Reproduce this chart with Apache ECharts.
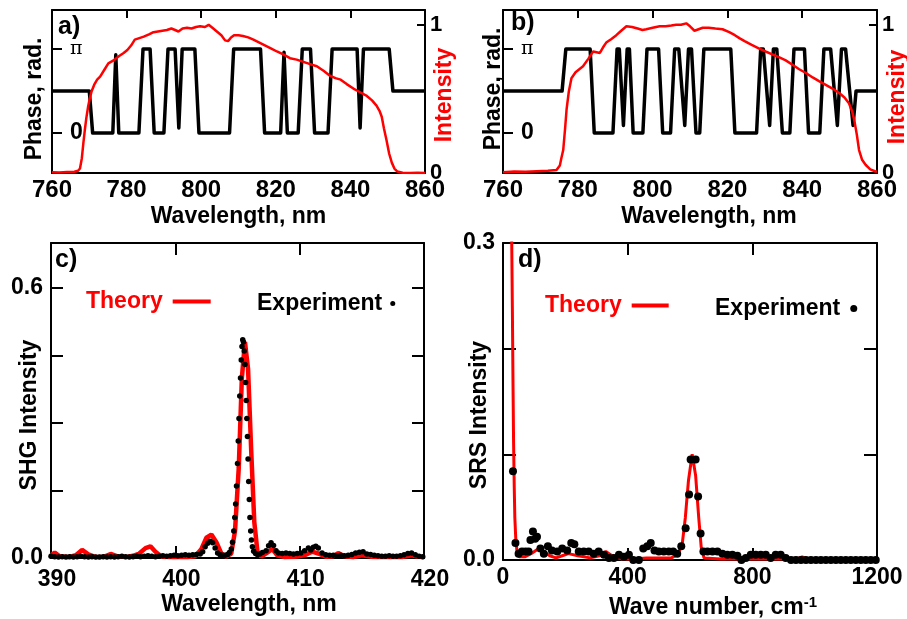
<!DOCTYPE html>
<html>
<head>
<meta charset="utf-8">
<script src="https://cdn.jsdelivr.net/npm/echarts@6/dist/echarts.min.js"></script>
<style>
  html, body { margin: 0; padding: 0; background: #fff; }
  #chart { width: 907px; height: 619px; }
</style>
</head>
<body>
<div id="chart"></div>
<script>
// phase in units of pi, [wavelength nm, phase]
const phaseA = [
  [760, 0.5], [770.0, 0.5], [770.9, 0], [776.3, 0], [777.1, 0.93], [777.9, 0], [783.3, 0], [784.4, 1],
  [786.3, 1], [787.4, 0], [790.0, 0], [791.1, 1], [793.0, 1], [794.0, 0.06], [794.9, 1], [798.3, 1],
  [799.4, 0], [807.6, 0], [808.7, 1], [815.9, 1], [817.0, 0], [821.3, 0], [822.2, 0.96], [823.1, 0],
  [826.0, 0], [827.1, 1], [829.3, 1], [830.4, 0], [834.0, 0], [835.1, 1], [841.8, 1], [842.6, 0.06],
  [843.5, 1], [850.4, 1], [851.4, 0.5], [860, 0.5]
];
const intensityA = [
  [760, 0.005], [762, 0.003], [764, 0.006], [766, 0.008], [767, 0.015], [767.5, 0.03], [768, 0.1],
  [768.4, 0.2], [768.8, 0.29], [769.2, 0.37], [769.7, 0.45], [770.1, 0.5], [770.6, 0.55], [771.4, 0.6],
  [772.1, 0.63], [772.9, 0.65], [774, 0.695], [775.1, 0.74], [776.5, 0.76], [778, 0.79], [779.2, 0.81],
  [780.2, 0.83], [781.2, 0.86], [782.2, 0.9], [783.4, 0.91], [784.6, 0.92], [786, 0.935], [787.2, 0.95],
  [788.4, 0.955], [789.6, 0.96], [790.8, 0.965], [792, 0.975], [793, 0.965], [793.9, 0.955], [795, 0.975],
  [796.2, 0.98], [797.4, 0.975], [798.6, 0.985], [799.7, 0.99], [801, 0.985], [802, 1.0], [803, 0.98],
  [804.2, 0.955], [805.4, 0.93], [806.4, 0.895], [807.2, 0.89], [808, 0.915], [808.8, 0.93], [810, 0.93],
  [811.2, 0.925], [812.6, 0.915], [814, 0.9], [815.6, 0.88], [817.2, 0.86], [818.8, 0.84], [820.3, 0.82],
  [822, 0.8], [823.8, 0.775], [825.6, 0.765], [827.4, 0.75], [829.2, 0.735], [831, 0.72], [832.8, 0.69],
  [834.6, 0.655], [836, 0.64], [837.4, 0.63], [839, 0.6], [840.8, 0.57], [842.6, 0.545], [844.4, 0.52],
  [845.8, 0.49], [847, 0.455], [847.8, 0.42], [848.4, 0.38], [849, 0.3], [849.7, 0.22], [850.4, 0.13],
  [851.1, 0.07], [851.8, 0.03], [852.6, 0.01], [854, 0.002], [856, 0], [858, 0.002], [860, 0]
];
const phaseB = [
  [760, 0.5], [775.8, 0.5], [776.8, 1], [783.3, 1], [784.4, 0], [789.4, 0], [790.5, 1], [791.1, 1],
  [792.2, 0.09], [793.2, 1], [793.8, 1], [794.8, 0], [797.4, 0], [798.5, 1], [801.6, 1], [802.7, 0],
  [804.8, 0], [805.9, 1], [807.0, 1], [808.6, 0.09], [809.6, 1], [810.4, 1], [811.6, 0], [812.6, 0],
  [813.7, 1], [820.9, 1], [822.0, 0], [827.8, 0], [828.9, 1], [829.6, 1], [831.3, 0.09], [832.3, 1],
  [833.2, 1], [834.7, 0], [836.7, 0], [837.8, 1], [840.6, 1], [841.7, 0], [844.7, 0], [845.8, 1],
  [847.6, 1], [849.4, 0.09], [850.5, 1], [851.6, 1], [853.6, 0.09], [854.4, 0.5], [860, 0.5]
];
const intensityB = [
  [760, 0.005], [763, 0.01], [766, 0.008], [769, 0.012], [772, 0.015], [774.3, 0.02], [775.2, 0.05],
  [775.6, 0.1], [776.1, 0.155], [776.6, 0.3], [777, 0.43], [777.6, 0.55], [778.3, 0.64], [779.4, 0.68],
  [780.4, 0.7], [781.4, 0.72], [782.8, 0.77], [784.1, 0.82], [785, 0.815], [785.9, 0.81], [786.8, 0.85],
  [787.6, 0.88], [789, 0.905], [790.3, 0.93], [791.6, 0.96], [793, 0.99], [794.5, 0.985], [796, 0.975],
  [797.3, 0.965], [798.3, 0.97], [800, 0.98], [801.9, 0.99], [803.5, 0.99], [805, 0.995], [806.3, 1.0],
  [807.6, 1.0], [809, 1.01], [810, 0.99], [811.2, 0.96], [812.3, 0.97], [813.4, 0.98], [815, 0.98],
  [816.8, 0.975], [818.7, 0.97], [820.5, 0.95], [822, 0.93], [823.2, 0.91], [824.6, 0.89], [826.5, 0.865],
  [828.5, 0.84], [830.2, 0.82], [832, 0.8], [833.9, 0.78], [835.6, 0.76], [837.4, 0.73], [839.2, 0.7],
  [841, 0.675], [842.8, 0.645], [844.5, 0.62], [846.3, 0.595], [848.1, 0.57], [849.9, 0.54], [851.3, 0.51],
  [852.5, 0.47], [853.3, 0.42], [853.9, 0.36], [854.6, 0.26], [855.2, 0.155], [856, 0.09], [857, 0.054],
  [858.2, 0.025], [859.6, 0.01], [860, 0.01]
];
const shgTheory = [
  [390, 0.006], [390.3, 0.012], [390.7, 0.004], [391.4, 0.002], [392, 0.006], [392.5, 0.018], [393, 0.008],
  [393.6, 0.002], [394.3, 0.003], [394.8, 0.009], [395.3, 0.004], [396, 0.002], [396.6, 0.005], [397.1, 0.01],
  [397.6, 0.022], [398, 0.026], [398.4, 0.014], [398.9, 0.003], [399.6, 0.002], [400.3, 0.003], [401, 0.002],
  [401.6, 0.004], [402.1, 0.02], [402.5, 0.045], [402.9, 0.052], [403.3, 0.035], [403.7, 0.01], [404.1, 0.003],
  [404.5, 0.01], [404.8, 0.06], [405.1, 0.2], [405.35, 0.4], [405.6, 0.48], [405.85, 0.42], [406.1, 0.24],
  [406.35, 0.08], [406.6, 0.015], [406.9, 0.003], [407.4, 0.012], [407.8, 0.02], [408.2, 0.006], [408.8, 0.002],
  [409.6, 0.003], [410.4, 0.006], [411, 0.014], [411.5, 0.01], [412.1, 0.003], [412.7, 0.004], [413.1, 0.011],
  [413.6, 0.004], [414.3, 0.002], [415, 0.006], [415.7, 0.003], [416.5, 0.002], [417.3, 0.003], [418.2, 0.002],
  [419, 0.006], [419.5, 0.003], [420, 0.002]
];
const shgExperiment = [
  [390.0, 0.004], [390.3, 0.003], [390.6, 0.002], [390.9, 0.003], [391.2, 0.002], [391.5, 0.003], [391.8, 0.002],
  [392.1, 0.003], [392.4, 0.004], [392.7, 0.003], [393.0, 0.002], [393.3, 0.003], [393.6, 0.002], [393.9, 0.002],
  [394.2, 0.003], [394.5, 0.002], [394.8, 0.003], [395.1, 0.002], [395.4, 0.003], [395.7, 0.004], [396.0, 0.003],
  [396.3, 0.002], [396.6, 0.003], [396.9, 0.004], [397.2, 0.003], [397.5, 0.004], [397.8, 0.005], [398.1, 0.004],
  [398.4, 0.003], [398.7, 0.004], [399.0, 0.005], [399.3, 0.004], [399.6, 0.005], [399.9, 0.006], [400.2, 0.005],
  [400.5, 0.006], [400.8, 0.007], [401.1, 0.006], [401.4, 0.007], [401.7, 0.008], [402.0, 0.009], [402.2, 0.014],
  [402.4, 0.025], [402.6, 0.033], [402.8, 0.037], [403.0, 0.034], [403.2, 0.022], [403.4, 0.011], [403.6, 0.007],
  [403.8, 0.006], [404.0, 0.006], [404.2, 0.008], [404.35, 0.012], [404.5, 0.02], [404.6, 0.035], [404.7, 0.06],
  [404.78, 0.09], [404.85, 0.12], [404.92, 0.16], [405.0, 0.21], [405.06, 0.26], [405.12, 0.31], [405.18, 0.36],
  [405.24, 0.40], [405.3, 0.44], [405.36, 0.47], [405.42, 0.485], [405.48, 0.48], [405.54, 0.46], [405.6, 0.43],
  [405.65, 0.39], [405.7, 0.35], [405.75, 0.31], [405.8, 0.27], [405.85, 0.22], [405.9, 0.17], [405.95, 0.13],
  [406.0, 0.09], [406.06, 0.06], [406.12, 0.04], [406.2, 0.025], [406.3, 0.015], [406.45, 0.01], [406.6, 0.008],
  [406.8, 0.009], [407.0, 0.012], [407.3, 0.016], [407.5, 0.027], [407.7, 0.034], [407.9, 0.028], [408.1, 0.016],
  [408.3, 0.011], [408.6, 0.01], [408.9, 0.011], [409.2, 0.01], [409.5, 0.009], [409.8, 0.01], [410.1, 0.011],
  [410.4, 0.016], [410.7, 0.022], [410.9, 0.018], [411.1, 0.024], [411.3, 0.026], [411.5, 0.022], [411.8, 0.011],
  [412.1, 0.007], [412.4, 0.006], [412.7, 0.006], [413.0, 0.005], [413.3, 0.006], [413.6, 0.005], [413.9, 0.006],
  [414.2, 0.008], [414.5, 0.011], [414.8, 0.013], [415.1, 0.014], [415.4, 0.009], [415.7, 0.008], [416.0, 0.006],
  [416.3, 0.005], [416.6, 0.004], [416.9, 0.004], [417.2, 0.005], [417.5, 0.004], [417.8, 0.004], [418.1, 0.005],
  [418.4, 0.007], [418.7, 0.01], [419.0, 0.011], [419.3, 0.007], [419.6, 0.004], [419.9, 0.003]
];
const srsTheory = [
  [26, 0.36], [28, 0.3], [30, 0.24], [32, 0.17], [34, 0.11], [36, 0.07], [38, 0.04], [41, 0.02], [45, 0.008],
  [52, 0.003], [70, 0.003], [90, 0.006], [110, 0.01], [130, 0.008], [150, 0.004], [170, 0.002], [190, 0.004],
  [210, 0.006], [240, 0.004], [280, 0.002], [310, 0.004], [330, 0.008], [350, 0.004], [380, 0.001], [420, 0.001],
  [460, 0.002], [500, 0.002], [540, 0.002], [560, 0.005], [575, 0.015], [585, 0.04], [595, 0.075], [607, 0.1],
  [618, 0.08], [628, 0.04], [636, 0.012], [645, 0.002], [700, 0.001], [800, 0.001], [900, 0.001], [950, 0.002],
  [960, 0.003], [975, 0.001], [1200, 0.001]
];
const srsExperiment = [
  [32, 0.084], [40, 0.016], [50, 0.006], [61, 0.008], [72, 0.008], [82, 0.008], [88, 0.019], [96, 0.027],
  [103, 0.02], [109, 0.022], [120, 0.011], [131, 0.006], [144, 0.013], [157, 0.009], [174, 0.008], [190, 0.011],
  [206, 0.009], [219, 0.016], [229, 0.015], [243, 0.008], [259, 0.008], [275, 0.008], [291, 0.006], [307, 0.008],
  [324, 0.005], [340, 0.002], [356, 0.002], [372, 0.005], [388, 0.003], [404, 0.005], [418, 0], [436, 0],
  [450, 0.011], [463, 0.013], [474, 0.016], [486, 0.009], [500, 0.008], [516, 0.008], [532, 0.008], [546, 0.008],
  [559, 0.006], [572, 0.013], [586, 0.03], [597, 0.062], [602, 0.095], [618, 0.095], [626, 0.06], [634, 0.025],
  [643, 0.008], [656, 0.008], [672, 0.008], [688, 0.008], [704, 0.006], [720, 0.005], [736, 0.005], [752, 0.004],
  [765, 0], [779, 0.002], [795, 0.005], [811, 0.005], [827, 0.005], [843, 0.005], [859, 0.002], [875, 0.005],
  [891, 0.005], [907, 0.002], [924, 0], [940, 0], [956, 0], [972, 0], [988, 0], [1004, 0], [1020, 0], [1036, 0],
  [1052, 0], [1068, 0], [1084, 0], [1100, 0], [1116, 0], [1132, 0], [1148, 0], [1164, 0], [1180, 0], [1196, 0]
];

// tick labels
const phaseTickValues = [0, 1];
const phaseTickLabels = ['0', '{pi|π}'];
const intensityTickValues = [0, 1];
const shgLabelValues = [0, 0.6];
const shgTickValues = [0.15, 0.3, 0.45, 0.6];
const srsLabelValues = [0, 0.3];
const srsTickValues = [0.1, 0.2];

const FONT = '"Liberation Sans", Arial, sans-serif';
const txt = (size, color) => ({ fontFamily: FONT, fontWeight: 'bold', fontSize: size, color: color || '#000' });
const line = { onZero: false, lineStyle: { color: '#000', width: 2 } };
const tick = (len, values) => ({ inside: true, length: len, customValues: values, lineStyle: { color: '#000', width: 2 } });
const noSplit = { show: false };

const chart = echarts.init(document.getElementById('chart'));

const grids = [
  { left: 52, top: 10, width: 373, height: 163 },
  { left: 503, top: 10, width: 374, height: 163 },
  { left: 51, top: 243, width: 373, height: 315 },
  { left: 503, top: 243, width: 374, height: 317 }
].map(g => Object.assign({ outerBoundsMode: 'none', containLabel: false }, g));

const wlBottom = (gi, pad) => ({
  type: 'value', gridIndex: gi, min: 760, max: 860, interval: 20,
  axisLine: line, axisTick: { show: false }, splitLine: noSplit,
  axisLabel: Object.assign(txt(24), { margin: 5, formatter: v => String(v) }),
  name: 'Wavelength, nm', nameLocation: 'middle', nameGap: 32, nameMoveOverlap: false,
  nameTextStyle: Object.assign(txt(23), { padding: [0, 0, 0, pad] })
});
const wlTop = (gi) => ({
  type: 'value', gridIndex: gi, position: 'top', min: 760, max: 860, interval: 20,
  axisLine: line, axisTick: { inside: true, length: 8, lineStyle: { color: '#000', width: 2 } },
  axisLabel: { show: false }, splitLine: noSplit
});
const phaseAxis = (gi, gap, pad) => ({
  type: 'value', gridIndex: gi, position: 'left', min: -0.476, max: 1.464,
  axisLine: line, axisTick: tick(10, phaseTickValues), splitLine: noSplit,
  axisLabel: Object.assign(txt(23), {
    inside: true, margin: 18, customValues: phaseTickValues,
    formatter: v => phaseTickLabels[phaseTickValues.indexOf(v)],
    rich: { pi: { fontFamily: '"DejaVu Serif", serif', fontSize: 19, fontWeight: 'normal', color: '#000' } }
  }),
  name: 'Phase, rad.', nameLocation: 'middle', nameGap: gap, nameMoveOverlap: false,
  nameTextStyle: Object.assign(txt(23), { padding: pad })
});
const intensityAxis = (gi, gap, pad) => ({
  type: 'value', gridIndex: gi, position: 'right', min: 0, max: 1.1,
  axisLine: line, axisTick: tick(8, intensityTickValues), splitLine: noSplit,
  axisLabel: Object.assign(txt(22), { margin: 5, customValues: intensityTickValues, formatter: v => String(v) }),
  name: 'Intensity', nameLocation: 'middle', nameGap: gap, nameMoveOverlap: false,
  nameTextStyle: Object.assign(txt(23, '#f00'), { padding: pad })
});

const option = {
  backgroundColor: '#fff',
  animation: false,
  grid: grids,
  title: [
    { text: 'a)', left: 58, top: 15, padding: 0, textStyle: txt(25) },
    { text: 'b)', left: 511, top: 11, padding: 0, textStyle: txt(25) },
    { text: 'c)', left: 55, top: 248, padding: 0, textStyle: txt(25) },
    { text: 'd)', left: 518, top: 248, padding: 0, textStyle: txt(25) }
  ],
  legend: [
    { left: 86, top: 290, padding: 0, align: 'right', itemWidth: 38, itemHeight: 4, selectedMode: false,
      data: [{ name: 'Theory', icon: 'rect' }], textStyle: Object.assign(txt(23, '#f00'), { padding: [0, 5, 0, 0] }) },
    { left: 257, top: 292, padding: 0, align: 'right', itemWidth: 5, itemHeight: 5, selectedMode: false,
      data: [{ name: 'Experiment', icon: 'circle' }], textStyle: Object.assign(txt(23), { padding: [0, 3, 0, 0] }) },
    { left: 545, top: 294, padding: 0, align: 'right', itemWidth: 37, itemHeight: 4, selectedMode: false,
      data: [{ name: 'Theory', icon: 'rect' }], textStyle: Object.assign(txt(23, '#f00'), { padding: [0, 5, 0, 0] }) },
    { left: 715, top: 297, padding: 0, align: 'right', itemWidth: 7, itemHeight: 7, selectedMode: false,
      data: [{ name: 'Experiment', icon: 'circle' }], textStyle: Object.assign(txt(23), { padding: [0, 5, 0, 0] }) }
  ],
  xAxis: [
    wlBottom(0, 0), wlTop(0), wlBottom(1, 38), wlTop(1),
    {
      type: 'value', gridIndex: 2, min: 390, max: 420, interval: 10,
      axisLine: line, axisTick: tick(12, [400, 410]), splitLine: noSplit,
      axisLabel: Object.assign(txt(23), { margin: 10, padding: [0, 0, 0, 12], formatter: v => String(v) }),
      name: 'Wavelength, nm', nameLocation: 'middle', nameGap: 35, nameMoveOverlap: false,
      nameTextStyle: Object.assign(txt(23), { padding: [0, 0, 0, 23] })
    },
    { type: 'value', gridIndex: 2, position: 'top', min: 390, max: 420, interval: 10,
      axisLine: line, axisTick: tick(12, [400, 410]), axisLabel: { show: false }, splitLine: noSplit },
    {
      type: 'value', gridIndex: 3, min: 0, max: 1200, interval: 400,
      axisLine: line, axisTick: tick(12, [400, 800]), splitLine: noSplit,
      axisLabel: Object.assign(txt(23), { margin: 6, formatter: v => String(v) }),
      name: 'Wave number, cm{sup|-1}', nameLocation: 'middle', nameGap: 35, nameMoveOverlap: false,
      nameTextStyle: Object.assign(txt(23), {
        padding: [0, 0, 0, 46],
        rich: { sup: { fontFamily: FONT, fontWeight: 'bold', fontSize: 15, color: '#000', verticalAlign: 'top', padding: [0, 0, 10, 0] } }
      })
    },
    { type: 'value', gridIndex: 3, position: 'top', min: 0, max: 1200, interval: 400,
      axisLine: line, axisTick: tick(12, [400, 800]), axisLabel: { show: false }, splitLine: noSplit }
  ],
  yAxis: [
    phaseAxis(0, 6, [0, 15, 0, 0]), intensityAxis(0, 8, [0, 7, 0, 0]),
    phaseAxis(1, -2, [0, 0, 0, 5]), intensityAxis(1, 9, [0, 11, 0, 0]),
    {
      type: 'value', gridIndex: 2, position: 'left', min: 0, max: 0.7,
      axisLine: line, axisTick: tick(12, shgTickValues), splitLine: noSplit,
      axisLabel: Object.assign(txt(23), { margin: 8, customValues: shgLabelValues, formatter: v => v.toFixed(1) }),
      name: 'SHG Intensity', nameLocation: 'middle', nameGap: 10, nameMoveOverlap: false,
      nameTextStyle: Object.assign(txt(23), { padding: [0, 29, 0, 0] })
    },
    { type: 'value', gridIndex: 2, position: 'right', min: 0, max: 0.7,
      axisLine: line, axisTick: tick(12, shgTickValues), axisLabel: { show: false }, splitLine: noSplit },
    {
      type: 'value', gridIndex: 3, position: 'left', min: 0, max: 0.3,
      axisLine: line, axisTick: tick(13, srsTickValues), splitLine: noSplit,
      axisLabel: Object.assign(txt(23), { margin: 8, customValues: srsLabelValues, formatter: v => v.toFixed(1) }),
      name: 'SRS Intensity', nameLocation: 'middle', nameGap: 12, nameMoveOverlap: false,
      nameTextStyle: Object.assign(txt(23), { padding: [0, 27, 0, 0] })
    },
    { type: 'value', gridIndex: 3, position: 'right', min: 0, max: 0.3,
      axisLine: line, axisTick: tick(13, srsTickValues), axisLabel: { show: false }, splitLine: noSplit }
  ],
  series: [
    { name: 'Phase a', type: 'line', xAxisIndex: 0, yAxisIndex: 0, data: phaseA, symbol: 'none',
      lineStyle: { color: '#000', width: 3.5, join: 'round' } },
    { name: 'Intensity a', type: 'line', xAxisIndex: 0, yAxisIndex: 1, data: intensityA, symbol: 'none',
      lineStyle: { color: '#f00', width: 2.5 } },
    { name: 'Phase b', type: 'line', xAxisIndex: 2, yAxisIndex: 2, data: phaseB, symbol: 'none',
      lineStyle: { color: '#000', width: 3.5, join: 'round' } },
    { name: 'Intensity b', type: 'line', xAxisIndex: 2, yAxisIndex: 3, data: intensityB, symbol: 'none',
      lineStyle: { color: '#f00', width: 2.5 } },
    { name: 'Theory', type: 'line', xAxisIndex: 4, yAxisIndex: 4, data: shgTheory, symbol: 'none',
      itemStyle: { color: '#f00' }, lineStyle: { color: '#f00', width: 4.5 } },
    { name: 'Experiment', type: 'scatter', xAxisIndex: 4, yAxisIndex: 4, data: shgExperiment,
      symbolSize: 5.5, itemStyle: { color: '#000', opacity: 1 }, z: 3 },
    { name: 'Theory', type: 'line', xAxisIndex: 6, yAxisIndex: 6, data: srsTheory, symbol: 'none',
      itemStyle: { color: '#f00' }, lineStyle: { color: '#f00', width: 3 } },
    { name: 'Experiment', type: 'scatter', xAxisIndex: 6, yAxisIndex: 6, data: srsExperiment,
      symbolSize: 8, itemStyle: { color: '#000', opacity: 1 }, z: 3 }
  ]
};

chart.setOption(option);
</script>
</body>
</html>
